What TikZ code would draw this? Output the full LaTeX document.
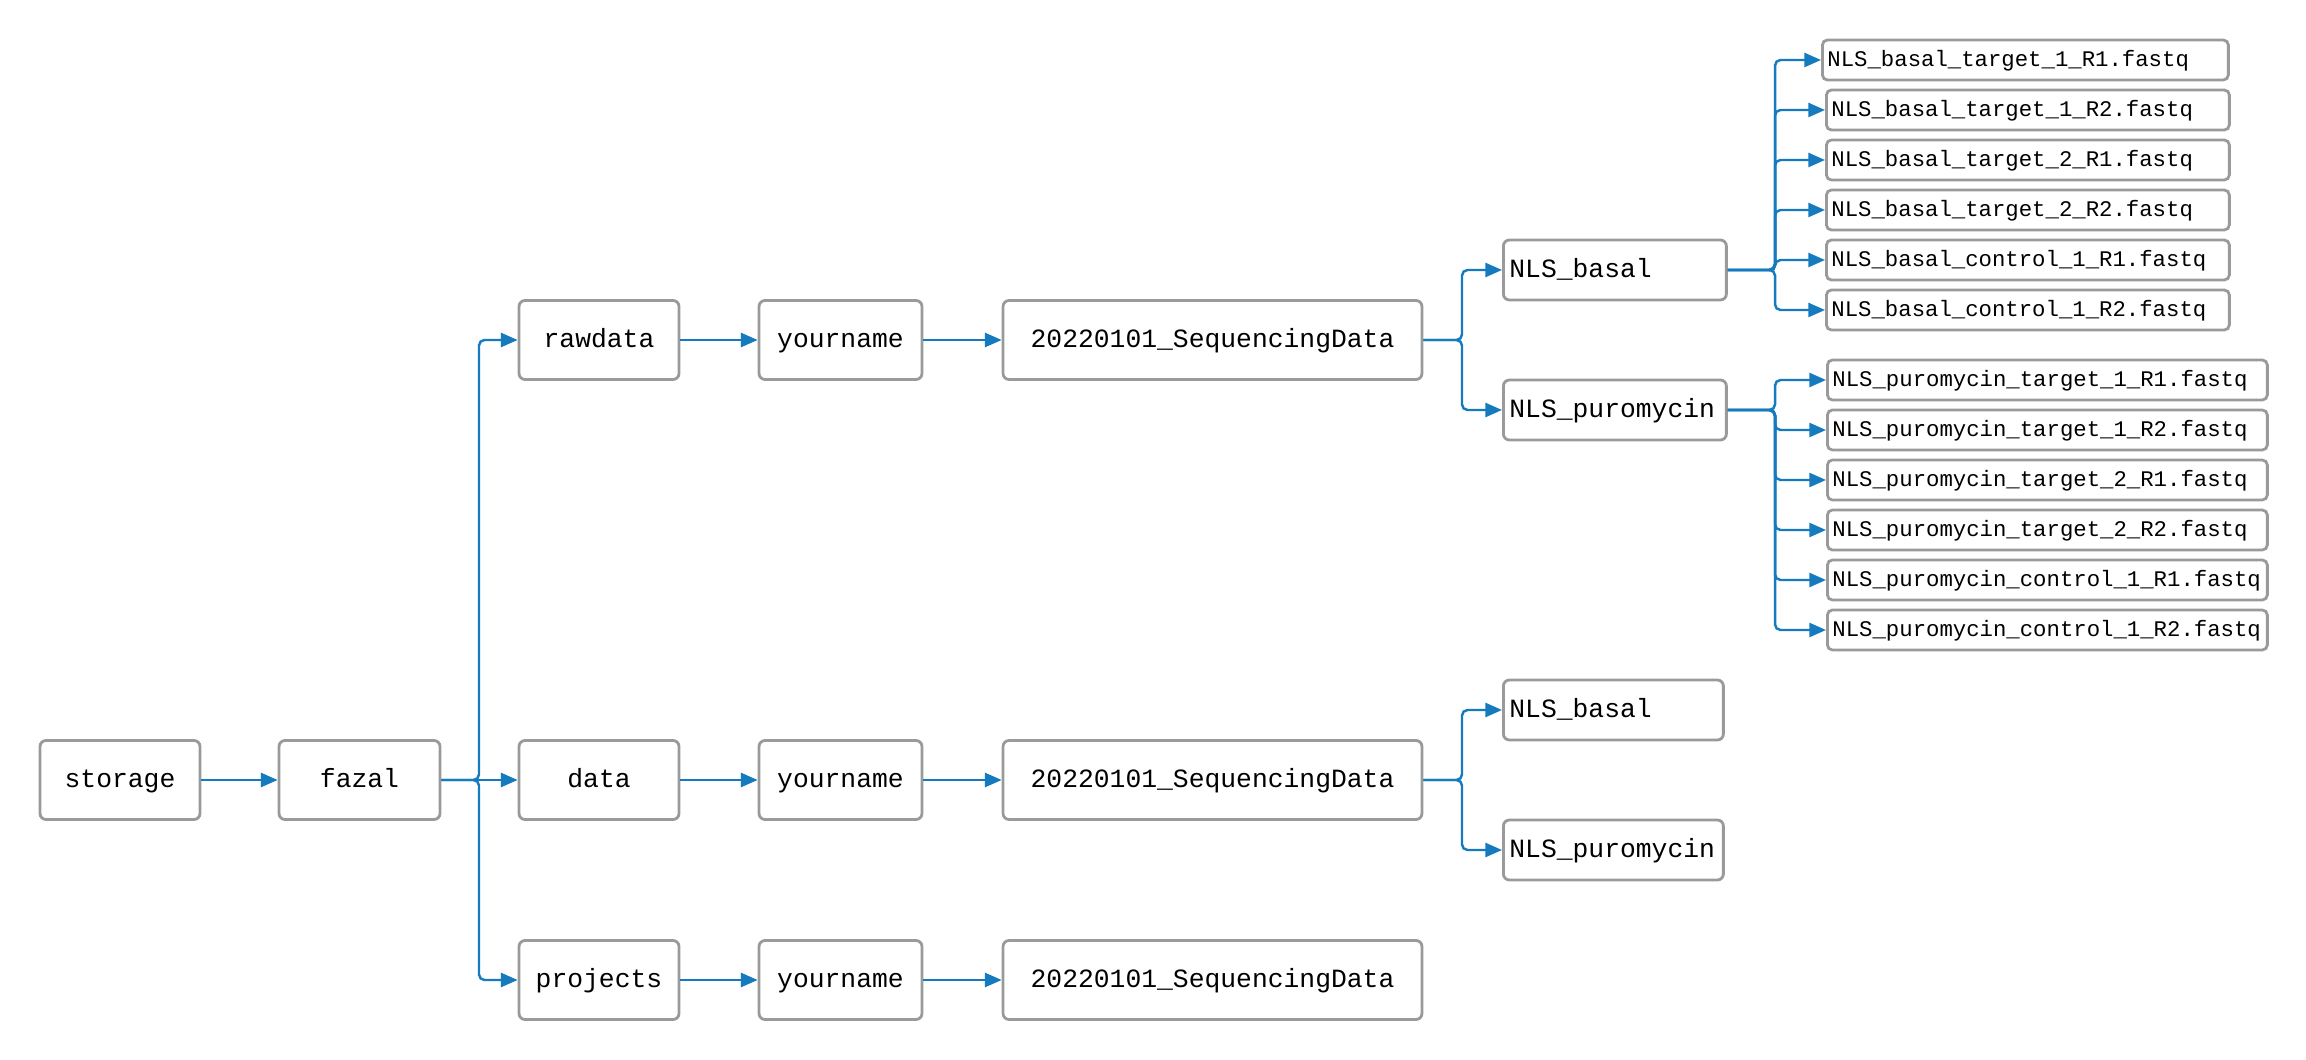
\documentclass[tikz,border=0pt]{standalone}
\usepackage{fontspec}
\setmonofont{Liberation Mono}
\usetikzlibrary{arrows.meta}
\definecolor{lineblue}{RGB}{21,122,190}
\definecolor{boxgray}{RGB}{154,154,154}
\tikzset{
  box/.style={draw=boxgray, line width=1.6pt, rounded corners=0.12cm, fill=white,
    minimum height=1.58cm, inner sep=0pt, text height=12pt, text depth=3pt,
    font=\ttfamily\fontsize{15}{18}\selectfont},
  nbox/.style={draw=boxgray, line width=1.6pt, rounded corners=0.12cm, fill=white,
    minimum height=1.2cm, inner xsep=0.12cm, inner ysep=0pt, align=left, anchor=west,
    text height=12pt, text depth=3pt,
    font=\ttfamily\fontsize{15}{18}\selectfont},
  fqbox/.style={draw=boxgray, line width=1.6pt, rounded corners=0.1cm, fill=white,
    minimum height=0.8cm, inner xsep=0.1cm, inner ysep=0pt, align=left, anchor=west,
    text height=10pt, text depth=2.4pt,
    font=\ttfamily\fontsize{12.7}{15}\selectfont},
  conn/.style={draw=lineblue, line width=1.4pt, rounded corners=0.11cm,
    -{Triangle[length=9.5pt,width=8pt]}},
}
\begin{document}
\begin{tikzpicture}[x=0.02cm, y=-0.02cm]
\useasboundingbox (0,0) rectangle (2306,1060);

% column 1-2
\node[box, minimum width=3.2cm] (storage) at (120,780) {storage};
\node[box, minimum width=3.22cm] (fazal) at (359.5,780) {fazal};

% column 3
\node[box, minimum width=3.2cm] (rawdata) at (599,340) {rawdata};
\node[box, minimum width=3.2cm] (data) at (599,780) {data};
\node[box, minimum width=3.2cm] (projects) at (599,980) {projects};

% column 4
\node[box, minimum width=3.26cm] (yn1) at (840.5,340) {yourname};
\node[box, minimum width=3.26cm] (yn2) at (840.5,780) {yourname};
\node[box, minimum width=3.26cm] (yn3) at (840.5,980) {yourname};

% column 5
\node[box, minimum width=8.38cm] (seq1) at (1212.5,340) {20220101\_SequencingData};
\node[box, minimum width=8.38cm] (seq2) at (1212.5,780) {20220101\_SequencingData};
\node[box, minimum width=8.38cm] (seq3) at (1212.5,980) {20220101\_SequencingData};

% column 6
\node[nbox, text width=4.22cm] (nb1) at (1502,270) {NLS\_basal};
\node[nbox, text width=4.22cm] (np1) at (1502,410) {NLS\_puromycin};
\node[nbox, text width=4.16cm] (nb2) at (1502,710) {NLS\_basal};
\node[nbox, text width=4.16cm] (np2) at (1502,850) {NLS\_puromycin};

% column 7 : basal fastq
\node[fqbox, text width=7.92cm] (fb1) at (1821,60) {NLS\_basal\_target\_1\_R1.fastq};
\node[fqbox, text width=7.86cm] (fb2) at (1825,110) {NLS\_basal\_target\_1\_R2.fastq};
\node[fqbox, text width=7.86cm] (fb3) at (1825,160) {NLS\_basal\_target\_2\_R1.fastq};
\node[fqbox, text width=7.86cm] (fb4) at (1825,210) {NLS\_basal\_target\_2\_R2.fastq};
\node[fqbox, text width=7.86cm] (fb5) at (1825,260) {NLS\_basal\_control\_1\_R1.fastq};
\node[fqbox, text width=7.86cm] (fb6) at (1825,310) {NLS\_basal\_control\_1\_R2.fastq};

% column 7 : puromycin fastq
\node[fqbox, text width=8.6cm] (fp1) at (1826,380) {NLS\_puromycin\_target\_1\_R1.fastq};
\node[fqbox, text width=8.6cm] (fp2) at (1826,430) {NLS\_puromycin\_target\_1\_R2.fastq};
\node[fqbox, text width=8.6cm] (fp3) at (1826,480) {NLS\_puromycin\_target\_2\_R1.fastq};
\node[fqbox, text width=8.6cm] (fp4) at (1826,530) {NLS\_puromycin\_target\_2\_R2.fastq};
\node[fqbox, text width=8.6cm] (fp5) at (1826,580) {NLS\_puromycin\_control\_1\_R1.fastq};
\node[fqbox, text width=8.6cm] (fp6) at (1826,630) {NLS\_puromycin\_control\_1\_R2.fastq};

% junction points
\coordinate (jf) at (479,780);
\coordinate (js1) at (1462,340);
\coordinate (js2) at (1462,780);
\coordinate (jb) at (1775,270);
\coordinate (jp) at (1775,410);

% connectors
\draw[conn] (storage) -- (fazal);
\draw[conn] (fazal.east) -- (jf) |- (rawdata.west);
\draw[conn] (fazal.east) -- (data.west);
\draw[conn] (fazal.east) -- (jf) |- (projects.west);

\draw[conn] (rawdata) -- (yn1);
\draw[conn] (data) -- (yn2);
\draw[conn] (projects) -- (yn3);
\draw[conn] (yn1) -- (seq1);
\draw[conn] (yn2) -- (seq2);
\draw[conn] (yn3) -- (seq3);

\draw[conn] (seq1.east) -- (js1) |- (nb1.west);
\draw[conn] (seq1.east) -- (js1) |- (np1.west);
\draw[conn] (seq2.east) -- (js2) |- (nb2.west);
\draw[conn] (seq2.east) -- (js2) |- (np2.west);

\foreach \f in {fb1,fb2,fb3,fb4,fb5,fb6}
  \draw[conn] (nb1.east) -- (jb) |- (\f.west);
\foreach \f in {fp1,fp2,fp3,fp4,fp5,fp6}
  \draw[conn] (np1.east) -- (jp) |- (\f.west);
\end{tikzpicture}
\end{document}
